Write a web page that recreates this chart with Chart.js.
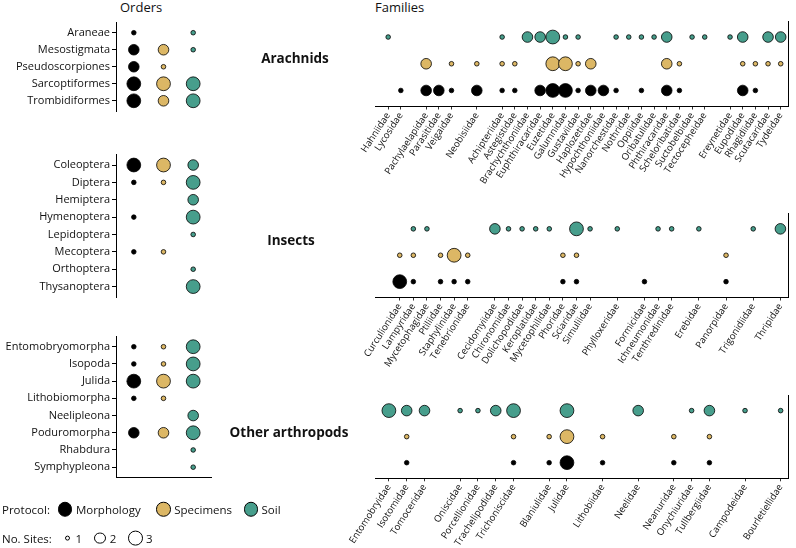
<!DOCTYPE html>
<html>
<head>
<meta charset="utf-8">
<script src="https://cdn.jsdelivr.net/npm/chart.js@4.4.1/dist/chart.umd.min.js"></script>
<style>
  body { margin: 0; background: #fff; }
  #wrap { position: relative; width: 796px; height: 548px; overflow: hidden;
          font-family: 'Open Sans', sans-serif; color: #111; }
  #wrap canvas { position: absolute; left: 0; top: 0; }
  .t { position: absolute; white-space: nowrap; line-height: 1; }
  .grp { position: absolute; white-space: nowrap; line-height: 1; font-weight: bold;
         font-size: 13.5px; transform: translate(-50%, -50%); }
  .leg { position: absolute; left: 2px; display: flex; align-items: center;
         font-size: 11.5px; line-height: 1; transform: translateY(-50%); }
  .dot { display: inline-block; border: 1px solid #000; border-radius: 50%; box-sizing: border-box; }
</style>
</head>
<body>
<div id="wrap">
  <div class="t" style="left:120px;top:1px;font-size:13px">Orders</div>
  <div class="t" style="left:375px;top:1px;font-size:13px">Families</div>
  <canvas id="ordArach" width="796" height="548"></canvas>
  <canvas id="ordIns" width="796" height="548"></canvas>
  <canvas id="ordOther" width="796" height="548"></canvas>
  <canvas id="famArach" width="796" height="548"></canvas>
  <canvas id="famIns" width="796" height="548"></canvas>
  <canvas id="famOther" width="796" height="548"></canvas>
</div>
<script>
const protocols = ['Morphology', 'Specimens', 'Soil'];
const protoColors = ['#000000', '#dcb765', '#479e8c'];
const siteCounts = [1, 2, 3];
const groupNames = ['Arachnids', 'Insects', 'Other arthropods'];

// ---- orders (values = no. of sites, 0 = not found)
const arachOrders = ['Araneae', 'Mesostigmata', 'Pseudoscorpiones', 'Sarcoptiformes', 'Trombidiformes'];
const arachOrdMorph = [1, 2, 2, 3, 3];
const arachOrdSpec  = [0, 2, 1, 3, 2];
const arachOrdSoil  = [1, 1, 0, 3, 3];

const insOrders = ['Coleoptera', 'Diptera', 'Hemiptera', 'Hymenoptera', 'Lepidoptera', 'Mecoptera', 'Orthoptera', 'Thysanoptera'];
const insOrdMorph = [3, 1, 0, 1, 0, 1, 0, 0];
const insOrdSpec  = [3, 1, 0, 0, 0, 1, 0, 0];
const insOrdSoil  = [2, 3, 2, 3, 1, 0, 1, 3];

const otherOrders = ['Entomobryomorpha', 'Isopoda', 'Julida', 'Lithobiomorpha', 'Neelipleona', 'Poduromorpha', 'Rhabdura', 'Symphypleona'];
const otherOrdMorph = [1, 1, 3, 1, 0, 2, 0, 0];
const otherOrdSpec  = [1, 1, 3, 1, 0, 2, 0, 0];
const otherOrdSoil  = [3, 3, 3, 0, 2, 3, 1, 1];

// ---- families (group = index of the order they belong to)
const arachFams = ['Hahniidae', 'Lycosidae', 'Pachylaelapidae', 'Parasitidae', 'Veigaidae', 'Neobisiidae',
  'Achipteriidae', 'Astegistidae', 'Brachychthoniidae', 'Euphthiracaridae', 'Euzetidae', 'Galumnidae',
  'Gustaviidae', 'Haplozetidae', 'Hypochthoniidae', 'Nanorchestidae', 'Nothridae', 'Oppiidae',
  'Oribatulidae', 'Phthiracaridae', 'Scheloribatidae', 'Suctobelbidae', 'Tectocepheidae',
  'Ereynetidae', 'Eupodidae', 'Rhagidiidae', 'Scutacaridae', 'Tydeidae'];
const arachFamGroup = [0, 0, 1, 1, 1, 2, 3, 3, 3, 3, 3, 3, 3, 3, 3, 3, 3, 3, 3, 3, 3, 3, 3, 4, 4, 4, 4, 4];
const arachFamMorph = [0, 1, 2, 2, 1, 2, 1, 1, 0, 2, 3, 3, 1, 2, 2, 1, 0, 1, 0, 2, 1, 0, 0, 0, 2, 1, 0, 0];
const arachFamSpec  = [0, 0, 2, 0, 1, 1, 1, 1, 0, 0, 3, 3, 1, 2, 0, 0, 0, 0, 0, 2, 1, 0, 0, 0, 1, 1, 1, 1];
const arachFamSoil  = [1, 0, 0, 0, 0, 0, 1, 0, 2, 2, 3, 1, 1, 0, 0, 1, 1, 1, 1, 2, 0, 1, 1, 1, 2, 0, 2, 2];

const insFams = ['Curculionidae', 'Lampyridae', 'Mycetophagidae', 'Ptiliidae', 'Staphylinidae', 'Tenebrionidae',
  'Cecidomyiidae', 'Chironomidae', 'Dolichopodidae', 'Keroplatidae', 'Mycetophilidae', 'Phoridae',
  'Sciaridae', 'Simuliidae', 'Phylloxeridae', 'Formicidae', 'Ichneumonidae', 'Tenthredinidae',
  'Erebidae', 'Panorpidae', 'Trigonidiidae', 'Thripidae'];
const insFamGroup = [0, 0, 0, 0, 0, 0, 1, 1, 1, 1, 1, 1, 1, 1, 2, 3, 3, 3, 4, 5, 6, 7];
const insFamMorph = [3, 1, 0, 1, 1, 1, 0, 0, 0, 0, 0, 1, 1, 0, 0, 1, 0, 0, 0, 1, 0, 0];
const insFamSpec  = [1, 1, 0, 1, 3, 1, 0, 0, 0, 0, 0, 1, 1, 0, 0, 0, 0, 0, 0, 1, 0, 0];
const insFamSoil  = [0, 1, 1, 0, 0, 0, 2, 1, 1, 1, 1, 0, 3, 1, 1, 0, 1, 1, 1, 0, 1, 2];

const otherFams = ['Entomobryidae', 'Isotomidae', 'Tomoceridae', 'Oniscidae', 'Porcellionidae', 'Trachelipodidae',
  'Trichoniscidae', 'Blaniulidae', 'Julidae', 'Lithobiidae', 'Neelidae', 'Neanuridae', 'Onychiuridae',
  'Tullbergiidae', 'Campodeidae', 'Bourletiellidae'];
const otherFamGroup = [0, 0, 0, 1, 1, 1, 1, 2, 2, 3, 4, 5, 5, 5, 6, 7];
const otherFamMorph = [0, 1, 0, 0, 0, 0, 1, 1, 3, 1, 0, 1, 0, 1, 0, 0];
const otherFamSpec  = [0, 1, 0, 0, 0, 0, 1, 1, 3, 1, 0, 1, 0, 1, 0, 0];
const otherFamSoil  = [3, 2, 2, 1, 1, 2, 3, 0, 3, 0, 2, 0, 1, 2, 1, 1];

// bubble radius per no. of sites
const radius = {1: 2.3, 2: 5.3, 3: 6.9};

Chart.defaults.font.family = "'Open Sans', sans-serif";
Chart.defaults.color = '#111';

function pointSets(vals, mapXY) {
  return vals.map((v, p) => ({
    label: protocols[p],
    data: v.map((n, i) => Object.assign(mapXY(i, p), {n: n})).filter(d => d.n > 0),
    backgroundColor: protoColors[p],
    borderColor: '#000',
    borderWidth: 0.8,
    pointRadius: ctx => radius[ctx.raw.n],
    clip: false
  }));
}

function ordersChart(id, pad, orders, vals, showBottom) {
  new Chart(document.getElementById(id), {
    type: 'scatter',
    data: {datasets: pointSets(vals, (i, p) => ({x: p, y: i}))},
    options: {
      responsive: false, animation: false, events: [],
      layout: {padding: pad},
      plugins: {legend: {display: false}, tooltip: {enabled: false}},
      scales: {
        x: {
          type: 'linear', min: -0.6, max: 2.6, bounds: 'data',
          ticks: {display: false}, grid: {display: false},
          border: {display: showBottom, color: '#000', width: 1},
          afterFit: s => { s.height = 0; s.paddingLeft = 0; s.paddingRight = 0; }
        },
        y: {
          type: 'linear', reverse: true, min: -0.6, max: orders.length - 0.4, bounds: 'data',
          afterBuildTicks: s => { s.ticks = orders.map((o, i) => ({value: i})); },
          ticks: {callback: (v, i) => orders[i], font: {size: 11}, padding: 2, autoSkip: false, color: '#111'},
          grid: {drawOnChartArea: false, tickLength: 4, color: '#000', lineWidth: 1},
          border: {display: true, color: '#000', width: 1},
          afterFit: s => { s.width = 116; s.paddingTop = 0; s.paddingBottom = 0; }
        }
      }
    }
  });
}

function familiesChart(id, pad, axisH, fams, groups, vals, xmin, xmax) {
  const pos = fams.map((f, i) => i + groups[i]);
  new Chart(document.getElementById(id), {
    type: 'scatter',
    data: {datasets: pointSets(vals, (i, p) => ({x: pos[i], y: 2 - p}))},
    options: {
      responsive: false, animation: false, events: [],
      layout: {padding: pad},
      plugins: {legend: {display: false}, tooltip: {enabled: false}},
      scales: {
        x: {
          type: 'linear', min: xmin, max: xmax, bounds: 'data',
          afterBuildTicks: s => { s.ticks = pos.map(v => ({value: v})); },
          ticks: {callback: (v, i) => fams[i], autoSkip: false, minRotation: 57, maxRotation: 57,
                  font: {size: 9.5}, padding: 1, color: '#111'},
          grid: {drawOnChartArea: false, tickLength: 3, color: '#000', lineWidth: 0.8},
          border: {display: true, color: '#000', width: 1},
          afterFit: s => { s.height = axisH; s.paddingLeft = 0; s.paddingRight = 0; }
        },
        y: {
          type: 'linear', position: 'right', reverse: true, min: -0.6, max: 2.6, bounds: 'data',
          ticks: {display: false}, grid: {display: false},
          border: {display: true, color: '#000', width: 1},
          afterFit: s => { s.width = 0; s.paddingTop = 0; s.paddingBottom = 0; }
        }
      }
    }
  });
}

ordersChart('ordArach', {left: 0, right: 585, top: 22.5, bottom: 437}, arachOrders,
  [arachOrdMorph, arachOrdSpec, arachOrdSoil], false);
ordersChart('ordIns', {left: 0, right: 585, top: 154.6, bottom: 251}, insOrders,
  [insOrdMorph, insOrdSpec, insOrdSoil], false);
ordersChart('ordOther', {left: 0, right: 585, top: 336.4, bottom: 70.5}, otherOrders,
  [otherOrdMorph, otherOrdSpec, otherOrdSoil], true);

familiesChart('famArach', {left: 375, right: 3, top: 21, bottom: 341.5}, 100, arachFams, arachFamGroup,
  [arachFamMorph, arachFamSpec, arachFamSoil], -1.04, 31.6);
familiesChart('famIns', {left: 375, right: 3, top: 213, bottom: 150.5}, 100, insFams, insFamGroup,
  [insFamMorph, insFamSpec, insFamSoil], -1.82, 28.58);
familiesChart('famOther', {left: 375, right: 3, top: 395, bottom: 0}, 69.7, otherFams, otherFamGroup,
  [otherFamMorph, otherFamSpec, otherFamSoil], -0.78, 22.43);

// group titles and legend
const wrap = document.getElementById('wrap');
const groupCentres = [[295, 59], [291, 241], [289, 433]];
groupNames.forEach((g, i) => {
  const d = document.createElement('div');
  d.className = 'grp';
  d.style.left = groupCentres[i][0] + 'px';
  d.style.top = groupCentres[i][1] + 'px';
  d.textContent = g;
  wrap.appendChild(d);
});

const leg1 = document.createElement('div');
leg1.className = 'leg';
leg1.style.top = '509px';
leg1.innerHTML = '<span>Protocol:</span>' + protocols.map((p, i) =>
  '<span class="dot" style="width:14.5px;height:14.5px;background:' + protoColors[i] +
  ';margin-left:' + [8, 15.5, 11.5][i] + 'px"></span><span style="margin-left:3.5px">' + p + '</span>').join('');
wrap.appendChild(leg1);

const leg2 = document.createElement('div');
leg2.className = 'leg';
leg2.style.top = '538px';
leg2.innerHTML = '<span>No. Sites:</span>' + siteCounts.map((n, i) => {
  const dia = 2 * radius[n] + 1;
  return '<span class="dot" style="width:' + dia + 'px;height:' + dia + 'px;background:#fff;margin-left:' +
    [13, 12, 12][i] + 'px"></span><span style="margin-left:' + [5, 4, 3][i] + 'px">' + n + '</span>';
}).join('');
wrap.appendChild(leg2);
</script>
</body>
</html>
